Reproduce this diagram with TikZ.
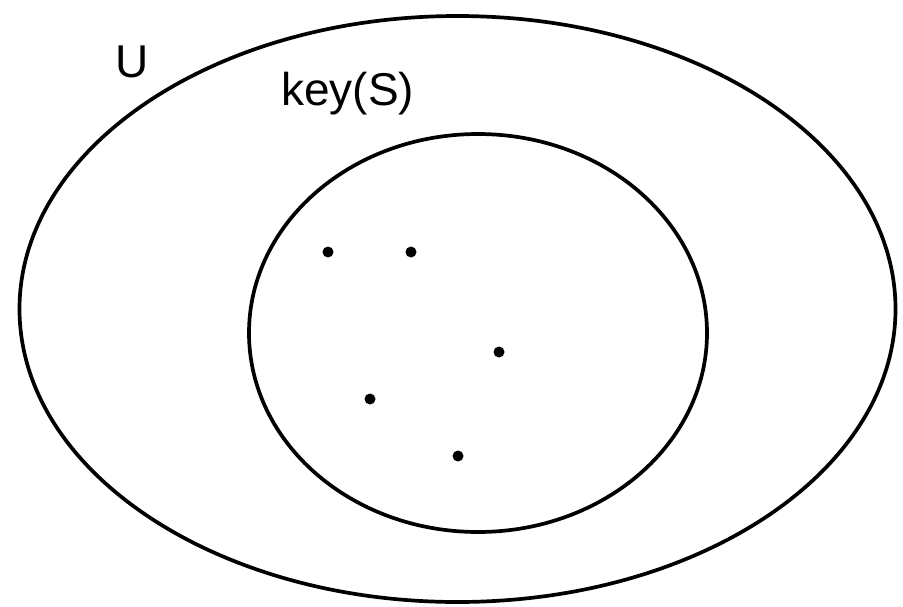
\documentclass[tikz,border=0pt]{standalone}
\usepackage{fontspec}
\setmainfont{Liberation Sans}
\begin{document}
\begin{tikzpicture}[x=1pt,y=-1pt,
  setline/.style={draw=black,line width=3.7pt},
  elem/.style={fill=black,circle,inner sep=0pt,minimum size=11pt},
  lbl/.style={font=\fontsize{46}{55}\selectfont,inner sep=0pt,anchor=base west}]
  \useasboundingbox (0,0) rectangle (903,606);
  % universe and key set
  \draw[setline] (457.5,309) ellipse [x radius=438, y radius=293];
  \draw[setline] (478,333) ellipse [x radius=229, y radius=199];
  \node[lbl] (u) at (115,77) {U};
  \node[lbl] (k) at (281,105) {key(S)};
  % stored keys
  \node[elem] (p1) at (328,252) {};
  \node[elem] (p2) at (411,252) {};
  \node[elem] (p3) at (499,352) {};
  \node[elem] (p4) at (370,399) {};
  \node[elem] (p5) at (458,456) {};
\end{tikzpicture}
\end{document}
